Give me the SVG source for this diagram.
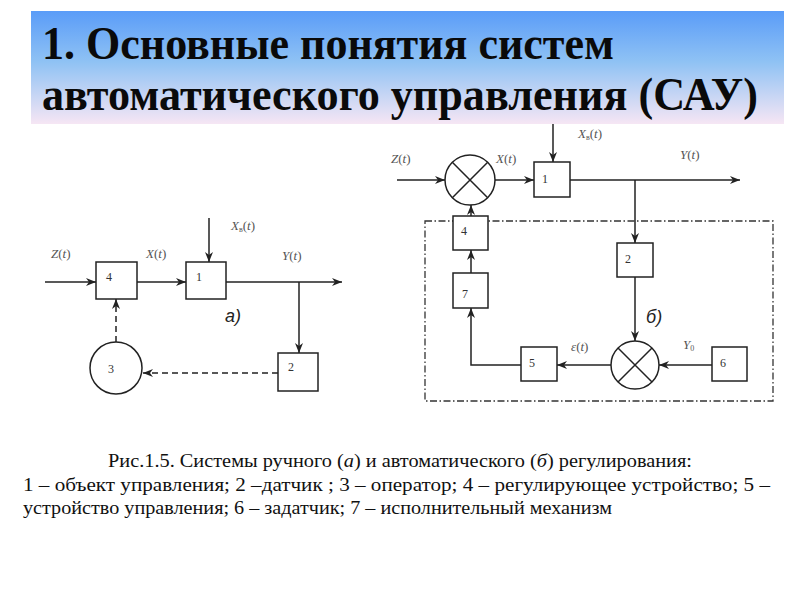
<svg xmlns="http://www.w3.org/2000/svg" width="800" height="600" viewBox="0 0 800 600">
<defs>
<linearGradient id="bg" x1="0" y1="0" x2="0" y2="1">
<stop offset="0" stop-color="#5a9cf8"/>
<stop offset="0.45" stop-color="#8fc2f4"/>
<stop offset="1" stop-color="#f6e6f4"/>
</linearGradient>
<marker id="ar" viewBox="0 0 10 8" refX="10" refY="4" markerWidth="10" markerHeight="8" markerUnits="userSpaceOnUse" orient="auto">
<path d="M0,0 L10,4 L0,8 L3,4 z" fill="#222"/>
</marker>
<style>
.ln{stroke:#222;stroke-width:1.5;fill:none}
.da{stroke-dasharray:6 4}
.dd{stroke:#333;stroke-width:1.3;fill:none;stroke-dasharray:7 2.5 1.5 2.5}
.bx{stroke:#222;stroke-width:1.5;fill:#fff}
.num{font-family:'Liberation Serif','Times New Roman',serif;font-size:12px;fill:#333}
.lb{font-family:'Liberation Serif','Times New Roman',serif;font-size:13px;fill:#555}
.it{font-style:italic}
.sub{font-size:8px}
.tag{font-family:'Liberation Sans',Arial,sans-serif;font-style:italic;font-size:18px;fill:#222}
.ttl{font-family:'Liberation Serif','Times New Roman',serif;font-weight:bold;font-size:46px;fill:#0a0a0a}
.cap{font-family:'Liberation Serif','Times New Roman',serif;font-size:18px;fill:#111}
</style>
</defs>
<rect x="0" y="0" width="800" height="600" fill="#fff"/>
<g id="title">
<rect x="31" y="11" width="753" height="113" fill="url(#bg)"/>
<text class="ttl" x="42" y="59" textLength="572" lengthAdjust="spacingAndGlyphs">1. Основные понятия систем</text>
<text class="ttl" x="42" y="110" textLength="716" lengthAdjust="spacingAndGlyphs">автоматического управления (САУ)</text>
</g>
<g id="connectors">
<line class="ln" x1="45" y1="282" x2="96" y2="282" marker-end="url(#ar)"/>
<line class="ln" x1="137" y1="282" x2="186" y2="282" marker-end="url(#ar)"/>
<line class="ln" x1="209" y1="218" x2="209" y2="262" marker-end="url(#ar)"/>
<line class="ln" x1="226" y1="282" x2="342" y2="282" marker-end="url(#ar)"/>
<line class="ln" x1="299" y1="282" x2="299" y2="353" marker-end="url(#ar)"/>
<line class="ln da" x1="278" y1="373" x2="143" y2="373" marker-end="url(#ar)"/>
<line class="ln da" x1="116" y1="342" x2="116" y2="299" marker-end="url(#ar)"/>
<line class="ln" x1="397" y1="180" x2="445" y2="180" marker-end="url(#ar)"/>
<line class="ln" x1="495" y1="180" x2="534" y2="180" marker-end="url(#ar)"/>
<line class="ln" x1="553" y1="124" x2="553" y2="162" marker-end="url(#ar)"/>
<line class="ln" x1="570" y1="180" x2="740" y2="180" marker-end="url(#ar)"/>
<line class="ln" x1="635" y1="180" x2="635" y2="243" marker-end="url(#ar)"/>
<line class="ln" x1="635" y1="277" x2="635" y2="341" marker-end="url(#ar)"/>
<line class="ln" x1="712" y1="365" x2="659" y2="365" marker-end="url(#ar)"/>
<line class="ln" x1="611" y1="365" x2="557" y2="365" marker-end="url(#ar)"/>
<polyline class="ln" points="521,365 471,365 471,308" marker-end="url(#ar)"/>
<line class="ln" x1="471" y1="273" x2="471" y2="250" marker-end="url(#ar)"/>
<line class="ln" x1="471" y1="216" x2="471" y2="205" marker-end="url(#ar)"/>
<rect class="dd" x="425" y="221" width="348" height="180"/>
</g>
<g id="a-labels">
<text class="lb" x="51" y="258"><tspan class="it">Z</tspan>(<tspan class="it">t</tspan>)</text>
<text class="lb" x="146" y="258"><tspan class="it">X</tspan>(<tspan class="it">t</tspan>)</text>
<text class="lb" x="231" y="230"><tspan class="it">X</tspan><tspan class="sub" dy="2">в</tspan><tspan dy="-2">(</tspan><tspan class="it">t</tspan>)</text>
<text class="lb" x="282" y="260"><tspan class="it">Y</tspan>(<tspan class="it">t</tspan>)</text>
<text class="tag" x="225" y="322">а)</text>
</g>
<g id="a-node4"><rect class="bx" x="96" y="262" width="41" height="37"/><text class="num" x="106" y="281">4</text></g>
<g id="a-node1"><rect class="bx" x="186" y="262" width="40" height="37"/><text class="num" x="196" y="281">1</text></g>
<g id="a-node2"><rect class="bx" x="278" y="353" width="40" height="38"/><text class="num" x="288" y="371">2</text></g>
<g id="a-node3"><circle class="bx" cx="116" cy="368" r="26"/><text class="num" x="108" y="373">3</text></g>
<g id="b-labels">
<text class="lb" x="391" y="163"><tspan class="it">Z</tspan>(<tspan class="it">t</tspan>)</text>
<text class="lb" x="496" y="163"><tspan class="it">X</tspan>(<tspan class="it">t</tspan>)</text>
<text class="lb" x="578" y="138"><tspan class="it">X</tspan><tspan class="sub" dy="2">в</tspan><tspan dy="-2">(</tspan><tspan class="it">t</tspan>)</text>
<text class="lb" x="680" y="159"><tspan class="it">Y</tspan>(<tspan class="it">t</tspan>)</text>
<text class="lb" x="571" y="351"><tspan class="it">ε</tspan>(<tspan class="it">t</tspan>)</text>
<text class="lb" x="683" y="349"><tspan class="it">Y</tspan><tspan class="sub" dy="2">0</tspan></text>
<text class="tag" x="646" y="323">б)</text>
</g>
<g id="b-sum1"><circle class="bx" cx="470" cy="180" r="25"/><path class="ln" d="M452.3,162.3 L487.7,197.7 M487.7,162.3 L452.3,197.7"/></g>
<g id="b-node1"><rect class="bx" x="534" y="162" width="36" height="35"/><text class="num" x="542" y="183">1</text></g>
<g id="b-node2"><rect class="bx" x="617" y="243" width="36" height="34"/><text class="num" x="625" y="263">2</text></g>
<g id="b-node4"><rect class="bx" x="453" y="216" width="35" height="34"/><text class="num" x="461" y="235">4</text></g>
<g id="b-node7"><rect class="bx" x="453" y="273" width="35" height="35"/><text class="num" x="462" y="298">7</text></g>
<g id="b-sum2"><circle class="bx" cx="635" cy="365" r="24"/><path class="ln" d="M618,348 L652,382 M652,348 L618,382"/></g>
<g id="b-node5"><rect class="bx" x="521" y="347" width="36" height="34"/><text class="num" x="529" y="367">5</text></g>
<g id="b-node6"><rect class="bx" x="712" y="347" width="35" height="34"/><text class="num" x="720" y="367">6</text></g>
<g id="caption">
<text class="cap" x="108" y="467" textLength="584" lengthAdjust="spacingAndGlyphs">Рис.1.5. Системы ручного (<tspan class="it">а</tspan>) и автоматического (<tspan class="it">б</tspan>) регулирования:</text>
<text class="cap" x="23" y="491" textLength="747" lengthAdjust="spacingAndGlyphs">1 – объект управления; 2 –датчик ; 3 – оператор; 4 – регулирующее устройство; 5 –</text>
<text class="cap" x="23" y="514" textLength="589" lengthAdjust="spacingAndGlyphs">устройство управления; 6 – задатчик; 7 – исполнительный механизм</text>
</g>
</svg>
